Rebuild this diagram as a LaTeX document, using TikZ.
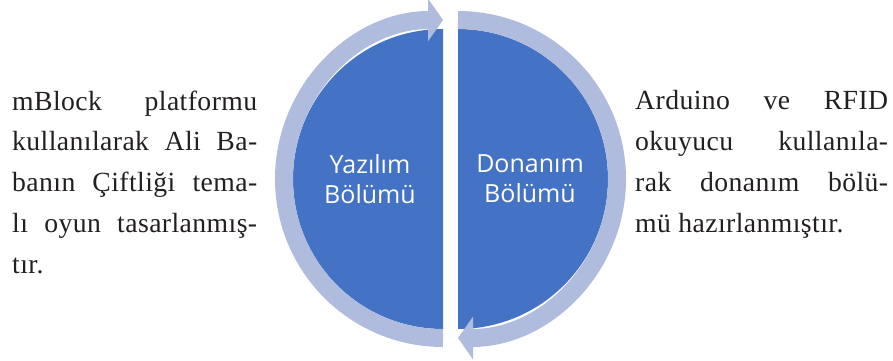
\documentclass[tikz,border=0pt]{standalone}
\usepackage{fontspec}
\setmainfont{Liberation Serif}[LetterSpace=1.5]
\newfontfamily\boxfont{Open Sans}
\usetikzlibrary{arrows.meta,calc}

\definecolor{halfblue}{RGB}{68,114,196}
\definecolor{ringblue}{RGB}{176,188,222}
\definecolor{textgray}{RGB}{35,31,32}

\tikzset{
	half/.style={fill=halfblue},
	ring/.style={draw=ringblue, line width=18pt, -{Triangle[length=15pt,width=42pt]}},
	boxlabel/.style={text=white, align=center, inner sep=0pt,
		font=\boxfont\fontsize{25}{30}\selectfont},
	side/.style={text=textgray, inner sep=0pt, text width=#1, align=justify,
		font=\fontsize{27.7}{40.7}\selectfont}
}

\begin{document}
\begin{tikzpicture}[x=1pt,y=1pt]
		\useasboundingbox (0,0) rectangle (893,360);

		\coordinate (lc) at (443,181);
		\coordinate (rc) at (458,181);

		% blue halves
		\fill[half] ($(lc)+(0,-150)$) arc[start angle=270, end angle=90, radius=150] -- cycle;
		\fill[half] ($(rc)+(0,150)$) arc[start angle=90, end angle=-90, radius=150] -- cycle;

		% cycle arrows
		\draw[ring] ($(lc)+(0,-159)$) arc[start angle=270, end angle=90, radius=159];
		\draw[ring] ($(rc)+(0,159)$) arc[start angle=90, end angle=-90, radius=159];

		\node[boxlabel] (yazilim) at (370,181) {Yazılım\\Bölümü};
		\node[boxlabel] (donanim) at (530,181) {Donanım\\Bölümü};

		\node[side=245pt, anchor=north west] (soltext) at (12,269.5)
			{mBlock platformu\linebreak kullanılarak Ali Ba-\linebreak banın Çiftliği tema-\linebreak lı oyun tasarlanmış-\linebreak tır.};
		\node[side=253pt, anchor=north west] (sagtext) at (635,269.5)
			{Arduino ve RFID\linebreak okuyucu kullanıla-\linebreak rak donanım bölü-\linebreak mü hazırlanmıştır.};
	\end{tikzpicture}
\end{document}
